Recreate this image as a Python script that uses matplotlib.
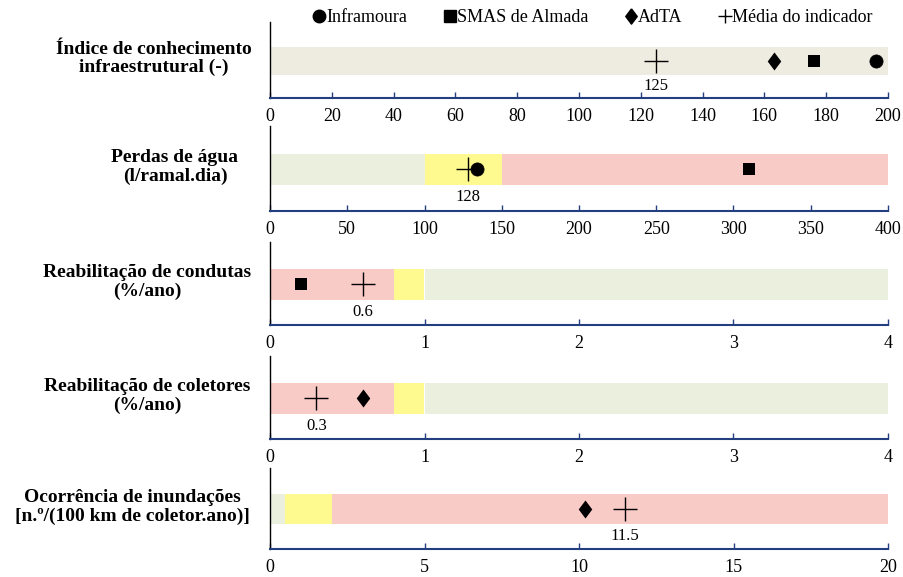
import matplotlib.pyplot as plt
from matplotlib.lines import Line2D

plt.rcParams["font.family"] = ["Liberation Serif", "DejaVu Serif"]

BEIGE, GREEN, YELLOW, PINK = "#eeece1", "#ebf0de", "#fffa90", "#f8cbc6"
NAVY = "#243f7f"
# diamond a little taller than wide, like the original
DIAMOND = [(0, 1), (0.75, 0), (0, -1), (-0.75, 0), (0, 1)]

titles = ["Índice de conhecimento\ninfraestrutural (-)",
          "Perdas de água\n(l/ramal.dia)",
          "Reabilitação de condutas\n(%/ano)",
          "Reabilitação de coletores\n(%/ano)",
          "Ocorrência de inundações\n[n.º/(100 km de coletor.ano)]"]
xmax = [200, 400, 4, 4, 20]
ticks = [list(range(0, 201, 20)), list(range(0, 401, 50)), [0, 1, 2, 3, 4], [0, 1, 2, 3, 4], [0, 5, 10, 15, 20]]

# reference bands: (start, end, colour)
bands = [
    [(0, 200, BEIGE)],
    [(0, 100, GREEN), (100, 150, YELLOW), (150, 400, PINK)],
    [(0, 0.8, PINK), (0.8, 1.0, YELLOW), (1.0, 4, GREEN)],
    [(0, 0.8, PINK), (0.8, 1.0, YELLOW), (1.0, 4, GREEN)],
    [(0, 0.5, GREEN), (0.5, 2.0, YELLOW), (2.0, 20, PINK)],
]

# entity values per indicator (None = not reported)
inframoura = [196, 134, None, None, None]
smas_almada = [176, 310, 0.2, None, None]
adta = [163, None, None, 0.6, 10.2]
media = [125, 128, 0.6, 0.3, 11.5]
media_lbl = ["125", "128", "0.6", "0.3", "11.5"]

W, H = 904, 577
rows_px = [(22, 98), (126, 211), (242, 325), (356, 439), (468, 549)]
title_x = [154, 175, 147, 147, 132]
left, right = 270, 888
BAND_Y = 0.49

fig = plt.figure(figsize=(W / 100, H / 100), dpi=100)

markers = [(inframoura, "o", 9.5), (smas_almada, "s", 8.5), (adta, DIAMOND, 13)]

for i, (top, bot) in enumerate(rows_px):
    ax = fig.add_axes([left / W, 1 - bot / H, (right - left) / W, (bot - top) / H])
    for a, b, c in bands[i]:
        ax.barh(BAND_Y, b - a, left=a, height=0.37, color=c, lw=0)
    for vals, m, ms in markers:
        v = vals[i]
        if v is not None:
            ax.plot(v, BAND_Y, marker=m, ms=ms, color="black", ls="none",
                    markeredgewidth=0 if m != "o" else 0.5)
    ax.plot(media[i], BAND_Y, marker="+", ms=17, mew=1.0, color="black", ls="none")
    ax.text(media[i], 0.16, media_lbl[i], ha="center", va="center", fontsize=12)
    ax.set_xlim(0, xmax[i])
    ax.set_ylim(0, 1)
    ax.set_xticks(ticks[i])
    ax.set_yticks([])
    ax.tick_params(axis="x", direction="in", length=4, width=1, color=NAVY, pad=7, labelsize=13)
    ax.spines[["top", "right"]].set_visible(False)
    ax.spines["left"].set_color("black")
    ax.spines["left"].set_linewidth(1.0)
    ax.spines["bottom"].set_color(NAVY)
    ax.spines["bottom"].set_linewidth(1.5)
    ax.patch.set_alpha(0)
    yc = 1 - (top + (1 - BAND_Y) * (bot - top)) / H + 0.004
    fig.text(title_x[i] / W, yc, titles[i], ha="center", va="center", fontsize=14,
             fontweight="bold", multialignment="center", linespacing=1.1)

handles = [Line2D([], [], marker="o", ls="none", color="black", ms=9, label="Inframoura"),
           Line2D([], [], marker="s", ls="none", color="black", ms=8.5, label="SMAS de Almada"),
           Line2D([], [], marker=DIAMOND, ls="none", color="black", ms=11, label="AdTA"),
           Line2D([], [], marker="+", ls="none", color="black", ms=10, mew=1, label="Média do indicador")]
fig.legend(handles=handles, loc="upper center", bbox_to_anchor=(593 / W, 1.012), ncol=4, frameon=False,
           fontsize=13, handlelength=0.7, handletextpad=0.05, columnspacing=2.0)

fig.savefig("out.png", dpi=100)
